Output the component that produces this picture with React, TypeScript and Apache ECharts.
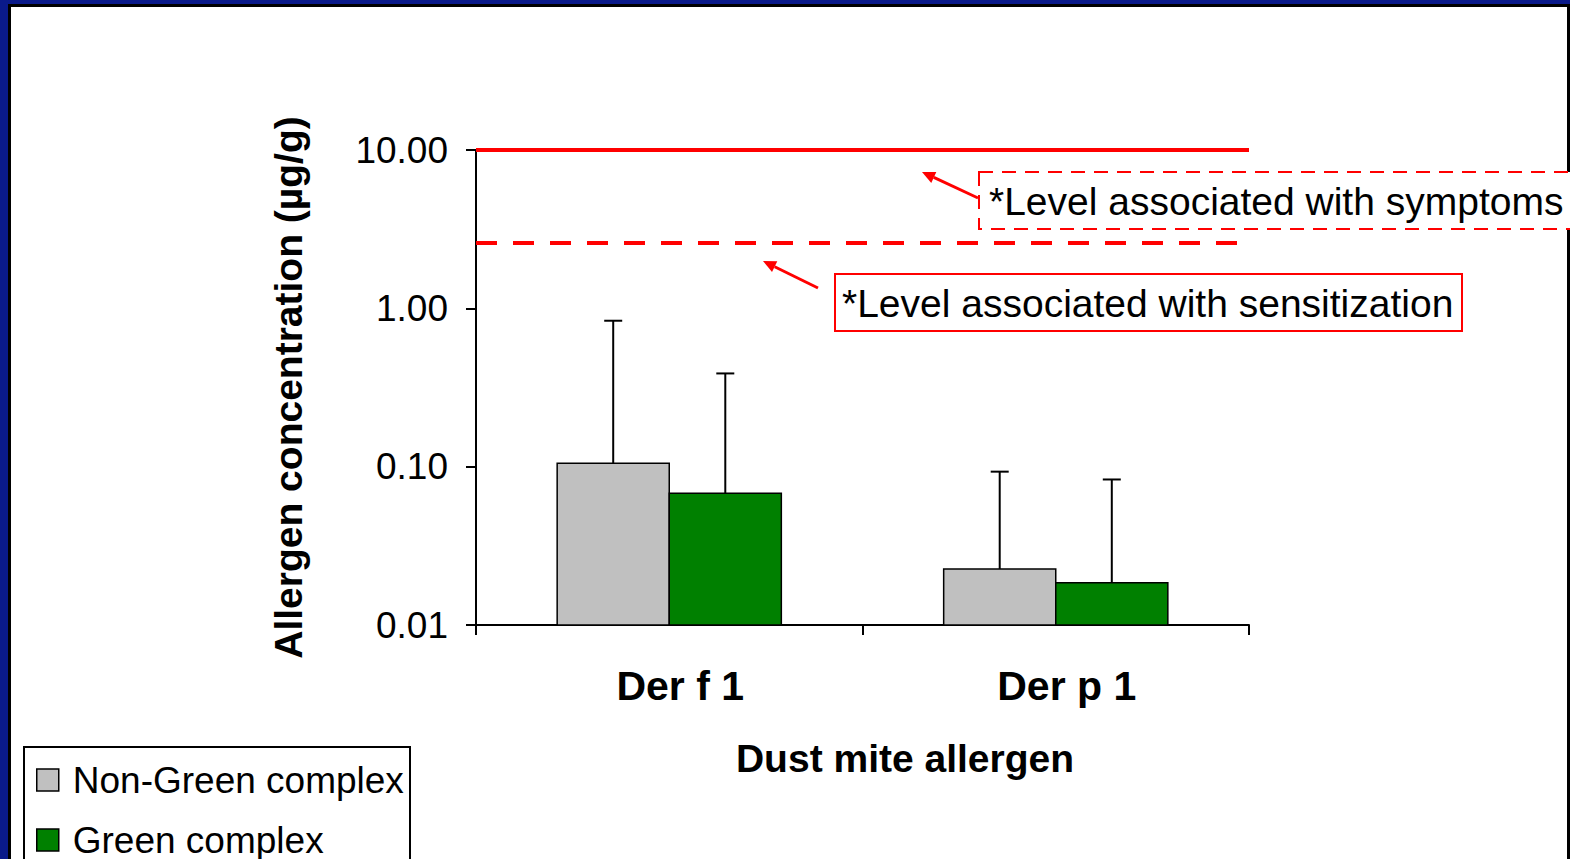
import React, { useEffect, useRef } from "react";
import * as echarts from "echarts";

// Dust mite allergen concentrations (geometric mean, upper error) by housing type
const categories = ["Der f 1", "Der p 1"];
const seriesNames = ["Non-Green complex", "Green complex"];
const nonGreenMeans = [0.105, 0.0226];
const greenMeans = [0.068, 0.0185];
const nonGreenUpper = [0.835, 0.093];
const greenUpper = [0.388, 0.083];
const seriesColors = ["#c0c0c0", "#008000"];

// Reference thresholds (µg/g)
const symptomLevel = 10;
const sensitizationLevel = 2.6;

const axisMin = 0.01;
const axisMax = 10;

const symptomText = "*Level associated with symptoms";
const sensitizationText = "*Level associated with sensitization";
const xTitle = "Dust mite allergen";
const yTitle = "Allergen concentration (µg/g)";

const FONT = '"Liberation Sans", Arial, Helvetica, sans-serif';
const RED = "#ff0000";
const BAR_GAP_RATIO = 0.42;

function arrow(tx: number, ty: number, hx: number, hy: number) {
  const ang = Math.atan2(hy - ty, hx - tx);
  const len = 13;
  const half = 6;
  const bx = hx - len * Math.cos(ang);
  const by = hy - len * Math.sin(ang);
  const px = -Math.sin(ang) * half;
  const py = Math.cos(ang) * half;
  return [
    {
      type: "line",
      z: 50,
      shape: { x1: tx, y1: ty, x2: bx, y2: by },
      style: { stroke: RED, lineWidth: 3 },
    },
    {
      type: "polygon",
      z: 50,
      shape: {
        points: [
          [hx, hy],
          [bx + px, by + py],
          [bx - px, by - py],
        ],
      },
      style: { fill: RED },
    },
  ];
}

// Bars drawn from the axis floor (log axis) with an upper error whisker.
function makeBarSeries(idx: number, means: number[], uppers: number[]) {
  return {
    name: seriesNames[idx],
    type: "custom",
    data: means.map((m, i) => [i, m, uppers[i]]),
    encode: { x: 0, y: [1, 2] },
    itemStyle: { color: seriesColors[idx], borderColor: "#000", borderWidth: 1.5 },
    renderItem: (params: any, api: any) => {
      const cat = api.value(0);
      const mean = api.value(1);
      const hi = api.value(2);
      const band = api.size([1, 0])[0];
      const bw = (band * (1 - BAR_GAP_RATIO)) / 2;
      const c = api.coord([cat, mean]);
      const base = api.coord([cat, axisMin]);
      const top = api.coord([cat, hi]);
      const x0 = c[0] - bw + idx * bw;
      const xm = x0 + bw / 2;
      const lineStyle = { stroke: "#000", lineWidth: 2 };
      return {
        type: "group",
        children: [
          {
            type: "rect",
            shape: { x: x0, y: c[1], width: bw, height: base[1] - c[1] },
            style: { fill: seriesColors[idx], stroke: "#000", lineWidth: 1.5 },
          },
          { type: "line", shape: { x1: xm, y1: c[1], x2: xm, y2: top[1] }, style: lineStyle },
          { type: "line", shape: { x1: xm - 9, y1: top[1], x2: xm + 9, y2: top[1] }, style: lineStyle },
        ],
      };
    },
  };
}

export default function App() {
  const ref = useRef<HTMLDivElement>(null);

  useEffect(() => {
    document.body.style.margin = "0";
    if (!ref.current) return;
    const chart = echarts.init(ref.current, null, { renderer: "svg" });

    const barSeries0: any = makeBarSeries(0, nonGreenMeans, nonGreenUpper);
    barSeries0.markLine = {
      silent: true,
      symbol: "none",
      label: { show: false },
      lineStyle: { color: RED, width: 4 },
      data: [
        { yAxis: symptomLevel, lineStyle: { type: "solid", color: RED, width: 4 } },
        { yAxis: sensitizationLevel, lineStyle: { type: [21, 16], color: RED, width: 4 } },
      ],
    };
    const barSeries1 = makeBarSeries(1, greenMeans, greenUpper);

    const option: any = {
      animation: false,
      backgroundColor: "#0a1a8a",
      textStyle: { fontFamily: FONT, color: "#000" },
      grid: { left: 476, right: 321, top: 150, bottom: 234 },
      legend: {
        data: seriesNames,
        orient: "vertical",
        left: 36,
        top: 760,
        height: 150,
        padding: 0,
        itemGap: 20,
        itemWidth: 22,
        itemHeight: 22,
        icon: "rect",
        selectedMode: false,
        itemStyle: { borderColor: "#000", borderWidth: 1.5 },
        textStyle: {
          fontFamily: FONT,
          fontSize: 37,
          lineHeight: 40,
          color: "#000",
          padding: [0, 0, 0, 9],
        },
      },
      xAxis: {
        type: "category",
        data: categories,
        name: xTitle,
        nameLocation: "middle",
        nameGap: 114,
        nameTextStyle: {
          fontFamily: FONT,
          fontSize: 39,
          fontWeight: "bold",
          color: "#000",
          padding: [0, 0, 0, 85],
        },
        axisLine: { lineStyle: { color: "#000", width: 2 } },
        axisTick: { show: true, length: 10, lineStyle: { color: "#000", width: 2 } },
        axisLabel: {
          margin: 40,
          fontFamily: FONT,
          fontSize: 41,
          fontWeight: "bold",
          color: "#000",
          padding: [0, 0, 0, 22],
        },
        splitLine: { show: false },
      },
      yAxis: {
        type: "log",
        logBase: 10,
        min: axisMin,
        max: axisMax,
        name: yTitle,
        nameLocation: "middle",
        nameRotate: 90,
        nameGap: 168,
        nameTextStyle: {
          fontFamily: FONT,
          fontSize: 39,
          fontWeight: "bold",
          color: "#000",
        },
        axisLine: { show: true, lineStyle: { color: "#000", width: 2 } },
        axisTick: { show: true, length: 10, lineStyle: { color: "#000", width: 2 } },
        axisLabel: {
          margin: 28,
          fontFamily: FONT,
          fontSize: 37,
          color: "#000",
          formatter: (v: number) => v.toFixed(2),
        },
        splitLine: { show: false },
      },
      series: [barSeries0, barSeries1],
      graphic: [
        // white slide panel with black edge
        {
          type: "rect",
          z: -10,
          shape: { x: 9.5, y: 5.5, width: 1559, height: 900 },
          style: { fill: "#fff", stroke: "#000", lineWidth: 3 },
        },
        // legend frame
        {
          type: "rect",
          z: 40,
          shape: { x: 24, y: 747, width: 386, height: 200 },
          style: { fill: "none", stroke: "#000", lineWidth: 2 },
        },
        // symptoms annotation (dashed box)
        {
          type: "rect",
          z: 40,
          shape: { x: 979, y: 172, width: 640, height: 57 },
          style: { fill: "#fff", stroke: RED, lineWidth: 2, lineDash: [14, 9] },
        },
        {
          type: "text",
          z: 45,
          x: 989,
          y: 201,
          style: {
            text: symptomText,
            fontFamily: FONT,
            fontSize: 39,
            fill: "#000",
            verticalAlign: "middle",
          },
        },
        // sensitization annotation (solid box)
        {
          type: "rect",
          z: 40,
          shape: { x: 835, y: 274, width: 627, height: 57 },
          style: { fill: "#fff", stroke: RED, lineWidth: 2 },
        },
        {
          type: "text",
          z: 45,
          x: 842,
          y: 303,
          style: {
            text: sensitizationText,
            fontFamily: FONT,
            fontSize: 39,
            fill: "#000",
            verticalAlign: "middle",
          },
        },
        ...arrow(978, 198, 922, 172),
        ...arrow(818, 288, 763, 261),
      ],
    };

    chart.setOption(option);
    return () => chart.dispose();
  }, []);

  return <div ref={ref} style={{ width: 1570, height: 859 }} />;
}
